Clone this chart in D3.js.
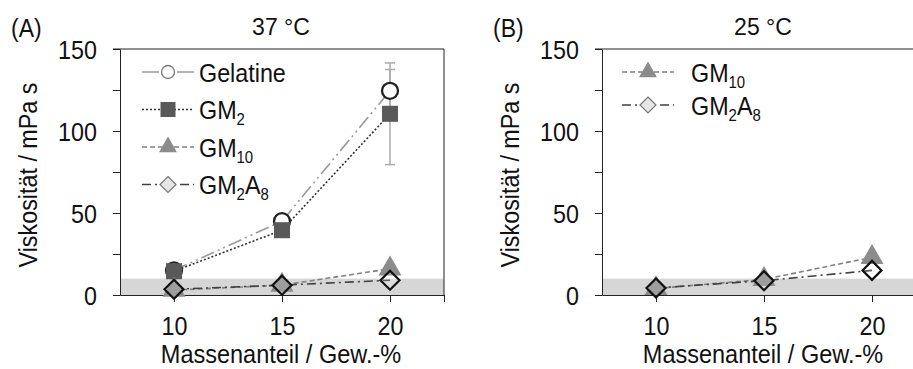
<!DOCTYPE html>
<html>
<head>
<meta charset="utf-8">
<script src="https://cdn.jsdelivr.net/npm/d3@7"></script>
<style>
  body { margin: 0; background: #fff; }
  svg { display: block; font-family: "Liberation Sans", Arial, sans-serif; }
</style>
</head>
<body>
<svg id="chart" width="913" height="369"></svg>
<script>
// data
const massFractions = [10, 15, 20];
const gelatine37 = [15, 45, 124.5];
const gelatine37Err = [0, 0, 13];
const gm2_37 = [14.5, 39.5, 110.5];
const gm2_37Err = [0, 0, 31];
const gm10_37 = [3, 6, 16];
const gm2a8_37 = [3.5, 6, 9];
const gm10_25 = [4, 9.5, 23];
const gm2a8_25 = [4.3, 8.7, 15];
const yTickValues = [0, 25, 50, 75, 100, 125, 150];
const xTickValues = [10, 15, 20, 22.5];
const limitBand = 10;

const styles = {
    Gelatine: { shape: "circle", line: "#9a9a9a", dash: "14,4,2,4,2,4" },
    GM2: { shape: "square", line: "#333", dash: "2,2" },
    GM10: { shape: "triangle", line: "#808080", dash: "5,3" },
    GM2A8: { shape: "diamond", line: "#404040", dash: "9,4,2,4" }
};

const svg = d3.select("#chart");
const FS = 26.5;

// the figure's font is a squeezed Arial: big glyphs, narrow width
function squeeze(sel, k = 0.88) {
    sel.each(function() {
        const len = this.getComputedTextLength();
        if (len > 0) d3.select(this).attr("textLength", len * k).attr("lengthAdjust", "spacingAndGlyphs");
    });
}

function marker(g, shape, legend) {
    if (shape === "circle") {
        g.append("circle").attr("r", legend ? 6.5 : 8).attr("fill", "#fff")
            .attr("stroke", legend ? "#777" : "#222").attr("stroke-width", legend ? 1.3 : 2.3);
    } else if (shape === "square") {
        const s = legend ? 15 : 16;
        g.append("rect").attr("x", -s/2).attr("y", -s/2).attr("width", s).attr("height", s).attr("fill", "#595959");
    } else if (shape === "triangle") {
        g.append("path").attr("d", d3.symbol(d3.symbolTriangle, legend ? 140 : 230)()).attr("fill", "#8c8c8c");
    } else {
        const r = legend ? 8 : 9.5;
        g.append("path").attr("d", `M0,${-r}L${r},0L0,${r}L${-r},0Z`)
            .attr("fill", legend ? "#e6e6e6" : "rgba(255,255,255,0.15)")
            .attr("stroke", legend ? "#777" : "#111").attr("stroke-width", legend ? 1.2 : 2.2);
    }
}

function label(sel, name) {
    const parts = { Gelatine: [["Gelatine"]], GM2: [["GM"], ["2", true]], GM10: [["GM"], ["10", true]],
        GM2A8: [["GM"], ["2", true], ["A"], ["8", true]] }[name];
    let sub = false;
    parts.forEach(([t, isSub]) => {
        const ts = sel.append("tspan").text(t);
        if (isSub && !sub) { ts.attr("dy", 6).attr("font-size", 17); sub = true; }
        else if (isSub) ts.attr("font-size", 17);
        else if (sub) { ts.attr("dy", -6); sub = false; }
    });
}

function panel(opts) {
    const x = d3.scaleLinear().domain([7.5, 22.5]).range([opts.left, opts.left + 324]);
    const y = d3.scaleLinear().domain([0, 150]).range([295, 49]);
    const g = svg.append("g");

    g.append("rect").attr("x", x(7.5)).attr("y", y(limitBand)).attr("width", x(22.5) - x(7.5))
        .attr("height", y(0) - y(limitBand)).attr("fill", "#d6d6d6");

    // frame
    g.append("line").attr("x1", x(7.5) - 7).attr("x2", x(22.5)).attr("y1", y(150)).attr("y2", y(150)).attr("stroke", "#222");
    g.append("line").attr("x1", x(22.5)).attr("x2", x(22.5)).attr("y1", y(150)).attr("y2", y(0)).attr("stroke", "#222");

    const yAxis = g.append("g").attr("transform", `translate(${x(7.5)},0)`)
        .call(d3.axisLeft(y).tickValues(yTickValues).tickSize(7).tickSizeOuter(0).tickPadding(16)
            .tickFormat(d => d % 50 === 0 ? d : ""));
    const xAxis = g.append("g").attr("transform", `translate(0,${y(0)})`)
        .call(d3.axisBottom(x).tickValues(xTickValues).tickSize(7).tickSizeOuter(0).tickPadding(14)
            .tickFormat(d => d === 22.5 ? "" : d));
    [yAxis, xAxis].forEach(a => {
        a.selectAll("path, line").attr("stroke", "#222");
        a.selectAll("text").attr("font-size", FS).attr("fill", "#111")
            .attr("font-family", "Liberation Sans, Arial, sans-serif").call(squeeze);
    });
    yAxis.selectAll("text").attr("dy", "0.34em");

    // error bars
    opts.series.forEach(s => {
        if (!s.err) return;
        massFractions.forEach((m, i) => {
            if (!s.err[i]) return;
            const eb = g.append("g").attr("stroke", "#aaa").attr("stroke-width", 1.5);
            eb.append("line").attr("x1", x(m)).attr("x2", x(m)).attr("y1", y(s.values[i] - s.err[i])).attr("y2", y(s.values[i] + s.err[i]));
            [s.values[i] - s.err[i], s.values[i] + s.err[i]].forEach(v =>
                eb.append("line").attr("x1", x(m) - 5).attr("x2", x(m) + 5).attr("y1", y(v)).attr("y2", y(v)));
        });
    });

    const lineGen = d3.line().x((d, i) => x(massFractions[i])).y(d => y(d));
    opts.series.forEach(s => {
        const st = styles[s.name];
        g.append("path").attr("d", lineGen(s.values)).attr("fill", "none")
            .attr("stroke", st.line).attr("stroke-width", 1.6).attr("stroke-dasharray", st.dash);
    });
    opts.series.forEach(s => {
        s.values.forEach((v, i) => {
            const mg = g.append("g").attr("transform", `translate(${x(massFractions[i])},${y(v)})`);
            marker(mg, styles[s.name].shape, false);
        });
    });

    // legend
    opts.series.forEach((s, i) => {
        const st = styles[s.name];
        const ly = opts.legendTop + i * opts.legendStep;
        const lx = x(7.5) + opts.legendDx;
        const lg = g.append("g");
        lg.append("line").attr("x1", lx).attr("x2", lx + 52).attr("y1", ly).attr("y2", ly)
            .attr("stroke", st.line).attr("stroke-width", 1.6)
            .attr("stroke-dasharray", s.name === "Gelatine" ? null : st.dash);
        const mg = lg.append("g").attr("transform", `translate(${lx + 26},${ly})`);
        if (s.name === "Gelatine") mg.append("rect").attr("x", -9).attr("y", -3).attr("width", 18).attr("height", 6).attr("fill", "#fff");
        marker(mg, st.shape, true);
        const t = lg.append("g").attr("transform", `translate(${lx + opts.textDx},${ly + 9.5}) scale(0.88,1)`)
            .append("text").attr("font-size", FS).attr("fill", "#111");
        label(t, s.name);
    });

    svg.append("text").attr("x", opts.left + 161).attr("y", 35).attr("text-anchor", "middle")
        .attr("font-size", 23).attr("fill", "#111").text(opts.title);
    svg.append("text").attr("x", opts.tagX).attr("y", 37).attr("font-size", 25).attr("fill", "#111").text(opts.tag).call(squeeze, 0.92);
    svg.append("text").attr("transform", `translate(${opts.left - 83},175) rotate(-90)`).attr("text-anchor", "middle")
        .attr("font-size", FS).attr("fill", "#111").text("Viskosität / mPa s").call(squeeze);
    svg.append("text").attr("x", opts.left + 161).attr("y", 363).attr("text-anchor", "middle")
        .attr("font-size", 25).attr("fill", "#111").text("Massenanteil / Gew.-%").call(squeeze, 0.94);
}

panel({
    left: 120, title: "37 °C", tag: "(A)", tagX: 11,
    legendTop: 72, legendStep: 37.5, legendDx: 22, textDx: 57,
    series: [
        { name: "Gelatine", values: gelatine37, err: gelatine37Err },
        { name: "GM2", values: gm2_37, err: gm2_37Err },
        { name: "GM10", values: gm10_37 },
        { name: "GM2A8", values: gm2a8_37 }
    ]
});
panel({
    left: 602, title: "25 °C", tag: "(B)", tagX: 493,
    legendTop: 72, legendStep: 33, legendDx: 20, textDx: 69,
    series: [
        { name: "GM10", values: gm10_25 },
        { name: "GM2A8", values: gm2a8_25 }
    ]
});
</script>
</body>
</html>
